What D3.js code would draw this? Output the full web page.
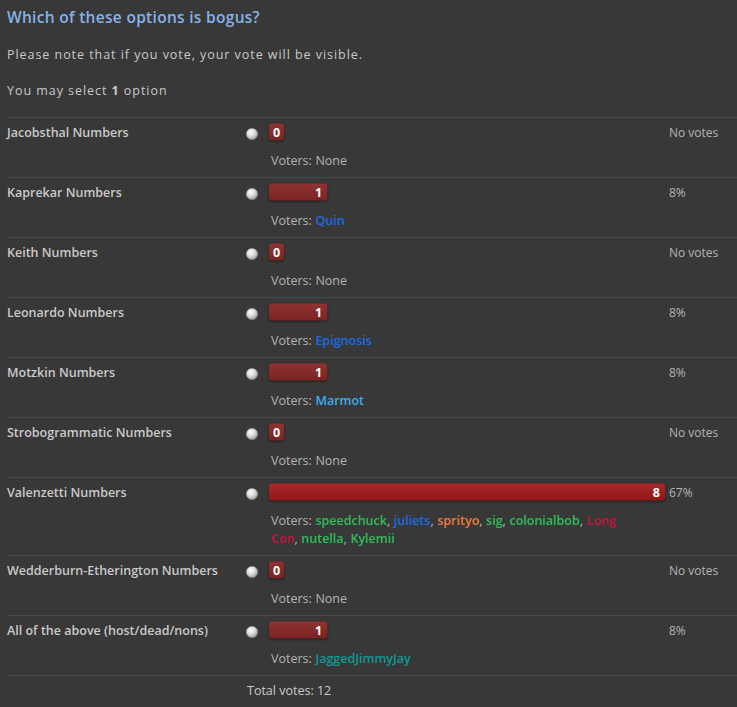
<!DOCTYPE html>
<html>
<head>
<meta charset="utf-8">
<script src="https://cdn.jsdelivr.net/npm/d3@7"></script>
<style>
  html, body { margin: 0; padding: 0; background: #383838; }
  svg { display: block; font-family: "Open Sans", sans-serif; }
</style>
</head>
<body>
<div id="poll"></div>
<script>
// poll data
var question = "Which of these options is bogus?";
var options = [
    "Jacobsthal Numbers",
    "Kaprekar Numbers",
    "Keith Numbers",
    "Leonardo Numbers",
    "Motzkin Numbers",
    "Strobogrammatic Numbers",
    "Valenzetti Numbers",
    "Wedderburn-Etherington Numbers",
    "All of the above (host/dead/nons)"
];
var votes = [0, 1, 0, 1, 1, 0, 8, 0, 1];
var voters = [
    [],
    ["Quin"],
    [],
    ["Epignosis"],
    ["Marmot"],
    [],
    ["speedchuck", "juliets", "sprityo", "sig", "colonialbob", "Long Con", "nutella", "Kylemii"],
    [],
    ["JaggedJimmyJay"]
];

// user group colours
var userColors = {
    "Quin": "#1a6be8",
    "Epignosis": "#1a6be8",
    "Marmot": "#3aaeea",
    "speedchuck": "#2ebd57",
    "juliets": "#1a6be8",
    "sprityo": "#f07a3c",
    "sig": "#2ebd57",
    "colonialbob": "#2ebd57",
    "Long Con": "#c8103c",
    "nutella": "#2ebd57",
    "Kylemii": "#2ebd57",
    "JaggedJimmyJay": "#10999a"
};

var attrs = {
    width: 737,
    height: 707,
    left: 7,
    top: 117,
    rowHeight: 60,
    lineHeight: 18,
    radioX: 252,
    barX: 269,
    barH: 17,
    pctX: 669,
    wrapWidth: 360,
    textColor: "#c9c9c9",
    mutedColor: "#b4b4b4",
    lineColor: "#4a4a4a"
};

var total = d3.sum(votes);
var maxVotes = d3.max(votes);

var x = d3.scaleLinear()
    .domain([0, maxVotes])
    .range([10, 396]);

var svg = d3.select("#poll").append("svg")
    .attr("width", attrs.width)
    .attr("height", attrs.height);

var defs = svg.append("defs");
var radioGrad = defs.append("radialGradient").attr("id", "radio")
    .attr("cx", "40%").attr("cy", "35%").attr("r", "70%");
radioGrad.append("stop").attr("offset", "0%").attr("stop-color", "#ffffff");
radioGrad.append("stop").attr("offset", "55%").attr("stop-color", "#d4d4d4");
radioGrad.append("stop").attr("offset", "100%").attr("stop-color", "#8e8e8e");

var barGrad = defs.append("linearGradient").attr("id", "bar")
    .attr("x1", 0).attr("y1", 0).attr("x2", 0).attr("y2", 1);
barGrad.append("stop").attr("offset", "0%").attr("stop-color", "#8f3232");
barGrad.append("stop").attr("offset", "100%").attr("stop-color", "#7a2323");

var topGrad = defs.append("linearGradient").attr("id", "barTop")
    .attr("x1", 0).attr("y1", 0).attr("x2", 0).attr("y2", 1);
topGrad.append("stop").attr("offset", "0%").attr("stop-color", "#a82a2a");
topGrad.append("stop").attr("offset", "100%").attr("stop-color", "#951515");

// header
svg.append("text")
    .attr("x", attrs.left).attr("y", 23)
    .attr("fill", "#86b3e9")
    .style("font-size", "15.5px").style("font-weight", 600)
    .style("letter-spacing", "0.3px")
    .text(question);

svg.append("text")
    .attr("x", attrs.left).attr("y", 59)
    .attr("fill", attrs.textColor)
    .style("font-size", "12.5px")
    .style("letter-spacing", "0.95px")
    .text("Please note that if you vote, your vote will be visible.");

var sel = svg.append("text")
    .attr("x", attrs.left).attr("y", 95)
    .attr("fill", attrs.textColor)
    .style("font-size", "12.5px")
    .style("letter-spacing", "0.95px");
sel.append("tspan").text("You may select ");
sel.append("tspan").style("font-weight", 700).text("1");
sel.append("tspan").text(" option");

// rows: row grows when the voter list wraps
var rowTop = attrs.top;
var rows = options.map(function(name, i){
    return { name: name, votes: votes[i], voters: voters[i], index: i };
});

rows.forEach(function(d){
    var g = svg.append("g").attr("transform", "translate(0," + rowTop + ")");

    g.append("line")
        .attr("x1", attrs.left).attr("x2", attrs.width)
        .attr("y1", 0.5).attr("y2", 0.5)
        .attr("stroke", attrs.lineColor);

    g.append("text")
        .attr("x", attrs.left).attr("y", 20)
        .attr("fill", attrs.textColor)
        .style("font-size", "12.5px").style("font-weight", 600)
        .text(d.name);

    g.append("circle")
        .attr("cx", attrs.radioX).attr("cy", 17)
        .attr("r", 5.8)
        .attr("fill", "url(#radio)")
        .attr("stroke", "#7e7e7e").attr("stroke-width", 0.6);

    var w = Math.max(15, x(d.votes));
    var lead = d.votes === maxVotes;
    g.append("rect")
        .attr("x", attrs.barX).attr("y", 6.5)
        .attr("width", w).attr("height", attrs.barH)
        .attr("rx", 3)
        .attr("fill", lead ? "url(#barTop)" : "url(#bar)")
        .style("filter", "drop-shadow(0 1px 1px rgba(0,0,0,0.5))");

    g.append("text")
        .attr("x", d.votes ? attrs.barX + w - 5 : attrs.barX + w / 2)
        .attr("y", 19.5)
        .attr("text-anchor", d.votes ? "end" : "middle")
        .attr("fill", "#ffffff")
        .style("font-size", "12.5px").style("font-weight", 700)
        .text(d.votes);

    g.append("text")
        .attr("x", attrs.pctX).attr("y", 20)
        .attr("fill", attrs.mutedColor)
        .style("font-size", "12px")
        .text(d.votes ? Math.round(d.votes / total * 100) + "%" : "No votes");

    // voters line, wrapped word by word
    var segs = [{ t: "Voters:", c: attrs.mutedColor, sep: true }];
    if (!d.voters.length) segs.push({ t: "None", c: attrs.mutedColor, sep: true });
    d.voters.forEach(function(v, k){
        var words = v.split(" ");
        words.forEach(function(wd, j){
            var last = j === words.length - 1;
            segs.push({ t: wd, c: userColors[v], sep: !last || k === d.voters.length - 1 });
            if (last && k < d.voters.length - 1) segs.push({ t: ",", c: attrs.mutedColor, sep: true, glue: true });
        });
    });

    var vg = g.append("g");
    var cx = 0, line = 0, space = 3.6;
    segs.forEach(function(s){
        var t = vg.append("text")
            .attr("fill", s.c)
            .style("font-size", "12.5px")
            .style("font-weight", s.c === attrs.mutedColor ? 400 : 600)
            .text(s.t);
        var len = t.node().getComputedTextLength();
        if (!s.glue && cx > 0 && cx + len > attrs.wrapWidth) { line++; cx = 0; }
        t.attr("x", attrs.barX + 2 + cx).attr("y", 48 + line * attrs.lineHeight);
        cx += len + (s.sep ? space : 0);
    });
    rowTop += attrs.rowHeight + line * attrs.lineHeight;
});

svg.append("line")
    .attr("x1", attrs.left).attr("x2", attrs.width)
    .attr("y1", rowTop + 0.5).attr("y2", rowTop + 0.5)
    .attr("stroke", attrs.lineColor);

svg.append("text")
    .attr("x", 247).attr("y", rowTop + 20)
    .attr("fill", attrs.textColor)
    .style("font-size", "12.5px")
    .text("Total votes: " + total);
</script>
</body>
</html>
